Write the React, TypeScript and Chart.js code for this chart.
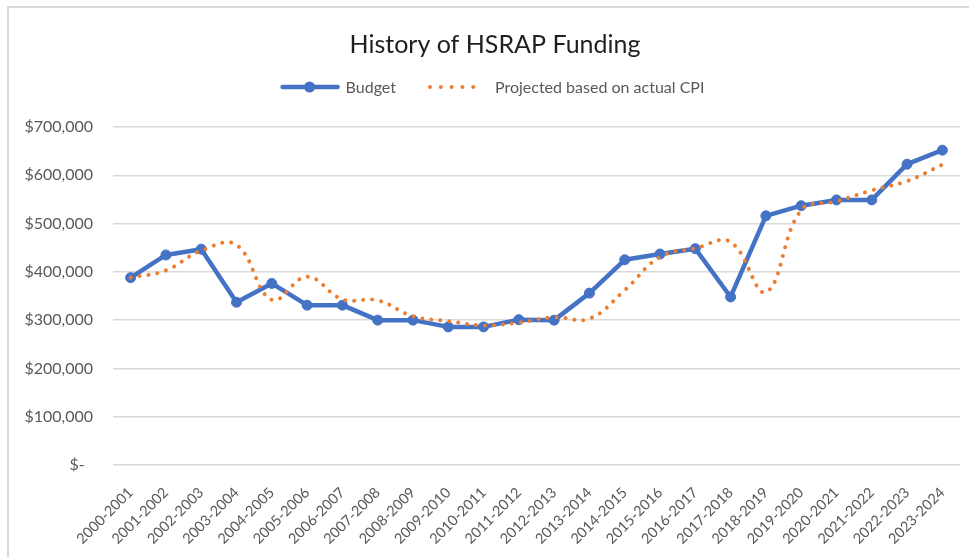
import React, { useEffect, useRef } from "react";
import { Chart, registerables } from "chart.js";

Chart.register(...registerables);

const categories = [
  "2000-2001", "2001-2002", "2002-2003", "2003-2004", "2004-2005", "2005-2006",
  "2006-2007", "2007-2008", "2008-2009", "2009-2010", "2010-2011", "2011-2012",
  "2012-2013", "2013-2014", "2014-2015", "2015-2016", "2016-2017", "2017-2018",
  "2018-2019", "2019-2020", "2020-2021", "2021-2022", "2022-2023", "2023-2024",
];

const budget = [
  388000, 435000, 447000, 337000, 376000, 331000, 331000, 300000, 300000, 286000,
  286000, 301000, 300000, 356000, 425000, 437000, 448000, 348000, 516000, 537000,
  549000, 549000, 623000, 652000,
];

const projected = [
  388000, 403000, 444000, 456000, 342000, 390000, 343000, 341000, 308000, 298000,
  289000, 295000, 306000, 303000, 362000, 431000, 449000, 462000, 358000, 528000,
  546000, 569000, 588000, 622000,
];

const yTicks = [0, 100000, 200000, 300000, 400000, 500000, 600000, 700000];

const chartTitle = "History of HSRAP Funding";
const seriesNames = ["Budget", "Projected based on actual CPI"];

const FONT = "Lato, 'Open Sans', sans-serif";
const TEXT_GRAY = "#595959";
const BLUE = "#4472C4";
const ORANGE = "#ED7D31";

const titleLegendPlugin = {
  id: "titleLegend",
  afterDraw(chart: any) {
    const ctx = chart.ctx as CanvasRenderingContext2D;
    ctx.save();
    const cx = chart.width / 2;
    ctx.font = `25px ${FONT}`;
    ctx.fillStyle = "#1f1f1f";
    ctx.textAlign = "center";
    ctx.textBaseline = "alphabetic";
    ctx.fillText(chartTitle, cx, 45);

    ctx.font = `16px ${FONT}`;
    const ds = chart.data.datasets;
    const symW = 54;
    const gap = 9;
    const spacing = 33;
    const widths = ds.map((d: any) => symW + gap + ctx.measureText(d.label).width);
    const total = widths.reduce((a: number, b: number) => a + b, 0) + spacing * (ds.length - 1);
    let x = cx - total / 2 - 3;
    const y = 79;
    ds.forEach((d: any, i: number) => {
      ctx.save();
      ctx.strokeStyle = d.borderColor;
      ctx.lineWidth = d.borderWidth;
      ctx.lineCap = d.borderCapStyle || "butt";
      ctx.setLineDash(d.borderDash ? [0.01, 10.8] : []);
      ctx.beginPath();
      ctx.moveTo(x + (d.borderDash ? 1 : 0), y);
      ctx.lineTo(x + symW + 1, y);
      ctx.stroke();
      if (d.pointRadius > 0) {
        ctx.setLineDash([]);
        ctx.fillStyle = d.pointBackgroundColor;
        ctx.beginPath();
        ctx.arc(x + symW / 2, y, d.pointRadius + 0.5, 0, Math.PI * 2);
        ctx.fill();
      }
      ctx.restore();
      ctx.fillStyle = TEXT_GRAY;
      ctx.textAlign = "left";
      ctx.textBaseline = "middle";
      ctx.fillText(d.label, x + symW + gap + (d.borderDash ? 3 : 0), y + 1);
      x += widths[i] + spacing;
    });
    ctx.restore();
  },
};

export default function App() {
  const ref = useRef<HTMLCanvasElement>(null);

  useEffect(() => {
    if (!ref.current) return;
    Chart.defaults.font.family = FONT;
    const chart = new Chart(ref.current, {
      type: "line",
      data: {
        labels: categories,
        datasets: [
          {
            label: seriesNames[0],
            data: budget,
            borderColor: BLUE,
            backgroundColor: BLUE,
            borderWidth: 4.5,
            borderCapStyle: "round",
            borderJoinStyle: "round",
            pointRadius: 5,
            pointBackgroundColor: BLUE,
            pointBorderColor: BLUE,
            pointBorderWidth: 1,
            tension: 0,
            order: 2,
          } as any,
          {
            label: seriesNames[1],
            data: projected,
            borderColor: ORANGE,
            backgroundColor: ORANGE,
            borderWidth: 4,
            borderDash: [0.01, 9],
            borderCapStyle: "round",
            pointRadius: 0,
            tension: 0.4,
            order: 1,
          } as any,
        ],
      },
      options: {
        responsive: false,
        animation: false,
        devicePixelRatio: 1,
        layout: { padding: { top: 119, left: 0, right: 21, bottom: 0 } },
        plugins: {
          legend: { display: false },
          title: { display: false },
          tooltip: { enabled: false },
        },
        scales: {
          x: {
            offset: true,
            grid: { display: false, drawTicks: false },
            border: { display: false },
            ticks: {
              autoSkip: false,
              minRotation: 45,
              maxRotation: 45,
              padding: 19,
              color: TEXT_GRAY,
              font: { size: 14.5, family: FONT },
            },
            afterFit(scale: any) {
              scale.height = 92;
            },
          },
          y: {
            min: 0,
            max: 700000,
            grid: { color: "#d9d9d9", lineWidth: 1.5, drawTicks: false },
            border: { display: false },
            afterBuildTicks(scale: any) {
              scale.ticks = yTicks.map((v) => ({ value: v }));
            },
            ticks: {
              padding: 20,
              color: TEXT_GRAY,
              font: { size: 16, family: FONT },
              callback: (v: any) =>
                Number(v) === 0 ? "$-  " : "$" + Number(v).toLocaleString("en-US"),
            },
            afterFit(scale: any) {
              scale.width = 104;
            },
          },
        },
      },
      plugins: [titleLegendPlugin],
    });
    return () => chart.destroy();
  }, []);

  return (
    <div
      style={{
        position: "fixed",
        left: 0,
        top: 0,
        width: 969,
        height: 557,
        overflow: "hidden",
        background: "#fff",
      }}
    >
      <div
        style={{
          position: "absolute",
          left: 7,
          top: 6,
          width: 972,
          height: 600,
          border: "2px solid #d9d9d9",
        }}
      >
        <canvas
          ref={ref}
          width={972}
          height={549}
          style={{ display: "block", width: 972, height: 549 }}
        />
      </div>
    </div>
  );
}
